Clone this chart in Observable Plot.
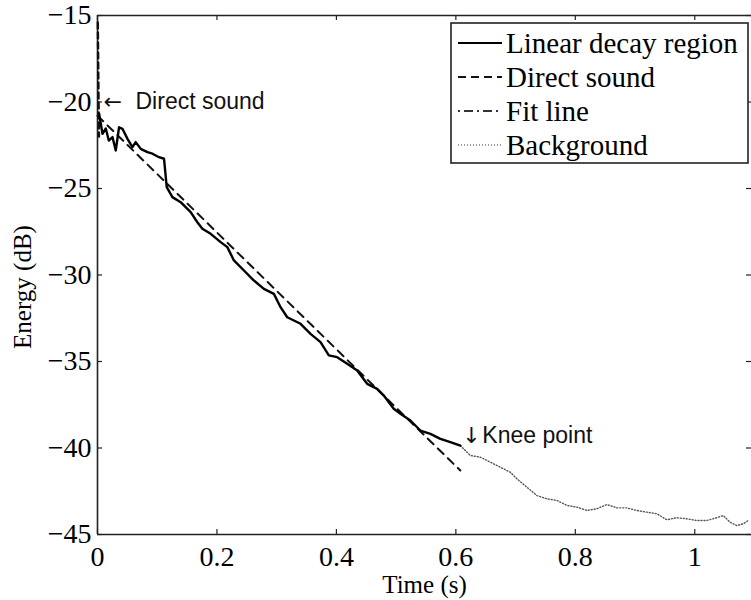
<!DOCTYPE html>
<html><head><meta charset="utf-8">
<script src="https://cdn.jsdelivr.net/npm/d3@7"></script>
<script src="https://cdn.jsdelivr.net/npm/@observablehq/plot@0.6"></script>
<style>body{margin:0;background:#fff}#chart{width:751px;height:600px}</style>
</head><body><div id="chart"></div>
<script>
// Linear decay region (solid)
const decayT = [0.0027,0.0084,0.0139,0.0189,0.0251,0.0306,0.0361,0.0418,0.0502,0.0585,0.0640,0.0724,0.0836,0.0920,0.1030,0.1114,0.1159,0.1254,0.1393,0.1560,0.1672,0.1756,0.1895,0.2062,0.2174,0.2284,0.2452,0.2619,0.2786,0.2953,0.3065,0.3177,0.3400,0.3567,0.3734,0.3873,0.4013,0.4181,0.4348,0.4515,0.4682,0.4793,0.4960,0.5072,0.5239,0.5406,0.5574,0.5741,0.5908,0.6075];
const decayE = [-20.68,-21.84,-21.53,-22.23,-22.03,-22.80,-21.46,-21.55,-22.13,-22.61,-22.32,-22.71,-22.90,-22.99,-23.19,-23.28,-24.92,-25.50,-25.79,-26.37,-26.95,-27.33,-27.62,-28.10,-28.39,-29.16,-29.74,-30.32,-30.80,-31.09,-31.86,-32.44,-32.82,-33.40,-33.88,-34.65,-34.75,-35.13,-35.52,-36.29,-36.58,-36.97,-37.73,-38.02,-38.41,-38.99,-39.18,-39.47,-39.66,-39.86];
// Direct sound (dashed)
const directT = [0.0005,0.001,0.0015,0.002,0.0025];
const directE = [-15.4,-17.0,-19.0,-20.5,-22.0];
// Fit line (dash-dot)
const fitT = [0, 0.6075];
const fitE = [-20.79, -41.3];
// Background (dotted)
const bgT = [0.6075,0.6242,0.6409,0.6577,0.6744,0.6911,0.7023,0.7191,0.7358,0.7525,0.7692,0.7860,0.8027,0.8194,0.8361,0.8528,0.8696,0.8863,0.9030,0.9197,0.9365,0.9532,0.9699,0.9866,1.0033,1.0201,1.0368,1.0478,1.0590,1.0702,1.0813,1.0896];
const bgE = [-39.86,-40.43,-40.53,-40.82,-41.11,-41.40,-41.78,-42.27,-42.75,-42.94,-43.03,-43.32,-43.42,-43.61,-43.51,-43.27,-43.46,-43.46,-43.61,-43.71,-43.80,-44.15,-44.03,-44.09,-44.19,-44.19,-44.03,-43.90,-44.29,-44.48,-44.38,-44.19];

const xTicks = [0, 0.2, 0.4, 0.6, 0.8, 1];
const yTicks = [-45, -40, -35, -30, -25, -20, -15];
const legendLabels = ["Linear decay region", "Direct sound", "Fit line", "Background"];
const annotations = [
  {t: 0, e: -20, arrow: "\u2190", label: "Direct sound", ax: 6, lx: 38, dy: 0},
  {t: 0.6075, e: -39.86, arrow: "\u2193", label: "Knee point", ax: 2, lx: 22, dy: -10}
];

const xMax = 1.095, yMin = -45, yMax = -15;
const pts = (T, E) => T.map((t, i) => ({t, e: E[i]}));
const fmtX = d => String(d);
const fmtY = d => "\u2212" + Math.abs(d);

const serif = "Liberation Serif, Times New Roman, serif";
const sans = "Liberation Sans, Arial, sans-serif";

const annoMarks = annotations.flatMap(a => [
  Plot.text([a], {x: "t", y: "e", text: "arrow", dx: a.ax, dy: a.dy, textAnchor: "start", lineAnchor: "middle", fontFamily: "DejaVu Sans", fontSize: 22, fill: "#111"}),
  Plot.text([a], {x: "t", y: "e", text: "label", dx: a.lx, dy: a.dy, textAnchor: "start", lineAnchor: "middle", fontFamily: sans, fontSize: 23, fill: "#111"})
]);

const chart = Plot.plot({
  width: 751, height: 600,
  marginLeft: 97, marginRight: 0, marginTop: 15, marginBottom: 66,
  style: {fontFamily: serif, background: "#fff", color: "#000"},
  x: {domain: [0, xMax], axis: null},
  y: {domain: [yMin, yMax], axis: null},
  marks: [
    // tick labels
    Plot.text(xTicks, {x: d => d, y: yMin, text: fmtX, dy: 12, lineAnchor: "top", textAnchor: "middle", fontSize: 28, fontFamily: serif, fill: "#000"}),
    Plot.text(yTicks, {x: 0, y: d => d, text: fmtY, dx: -6, lineAnchor: "middle", textAnchor: "end", fontSize: 28, fontFamily: serif, fill: "#000"}),
    // frame
    Plot.ruleY([yMin, yMax], {stroke: "#222", strokeWidth: 1.6}),
    Plot.ruleX([0], {stroke: "#222", strokeWidth: 1.6}),
    // inward ticks
    Plot.ruleX(xTicks, {x: d => d, y1: yMin, y2: yMin, insetTop: -5, stroke: "#222", strokeWidth: 1.2}),
    Plot.ruleX(xTicks, {x: d => d, y1: yMax, y2: yMax, insetBottom: -5, stroke: "#222", strokeWidth: 1.2}),
    Plot.ruleY(yTicks, {y: d => d, x1: 0, x2: 0, insetRight: -5, stroke: "#222", strokeWidth: 1.2}),
    Plot.ruleY(yTicks, {y: d => d, x1: xMax, x2: xMax, insetLeft: -5, stroke: "#222", strokeWidth: 1.2}),
    // data
    Plot.line(pts(bgT, bgE), {x: "t", y: "e", stroke: "#555", strokeWidth: 1.4, strokeDasharray: "1,2"}),
    Plot.line(pts(fitT, fitE), {x: "t", y: "e", stroke: "#111", strokeWidth: 2, strokeDasharray: "8,6"}),
    Plot.line(pts(directT, directE), {x: "t", y: "e", stroke: "#111", strokeWidth: 2.4, strokeDasharray: "6,4"}),
    Plot.line(pts(decayT, decayE), {x: "t", y: "e", stroke: "#000", strokeWidth: 2.4, strokeLinejoin: "round"}),
    // annotations
    ...annoMarks,
    // axis labels
    Plot.text(["Energy (dB)"], {frameAnchor: "left", dx: -75, dy: 12, rotate: -90, text: d => d, fontSize: 25, textAnchor: "middle", lineAnchor: "middle", fontFamily: serif}),
    Plot.text(["Time (s)"], {frameAnchor: "bottom", dy: 50, text: d => d, fontSize: 25, textAnchor: "middle", lineAnchor: "middle", fontFamily: serif})
  ]
});
document.getElementById("chart").appendChild(chart);

// Legend box (drawn on top of the plot)
const svg = d3.select(chart);
const lg = svg.append("g").attr("class", "legend");
lg.append("rect").attr("x", 451).attr("y", 23).attr("width", 297).attr("height", 140)
  .attr("fill", "#fff").attr("stroke", "#222").attr("stroke-width", 1.6);
const styles = [
  {dash: null, w: 2.2, c: "#000"},
  {dash: "8,5", w: 2, c: "#111"},
  {dash: "2,4,9,4", w: 2, c: "#333"},
  {dash: "1,2", w: 1.4, c: "#777"}
];
legendLabels.forEach((lab, i) => {
  const y = 43 + i * 34;
  lg.append("line").attr("x1", 458).attr("x2", 502).attr("y1", y).attr("y2", y)
    .attr("stroke", styles[i].c).attr("stroke-width", styles[i].w)
    .attr("stroke-dasharray", styles[i].dash);
  lg.append("text").attr("x", 506).attr("y", y + 10).attr("font-family", serif)
    .attr("text-anchor", "start")
    .attr("font-size", 29).attr("fill", "#000").text(lab);
});
</script>
</body></html>
